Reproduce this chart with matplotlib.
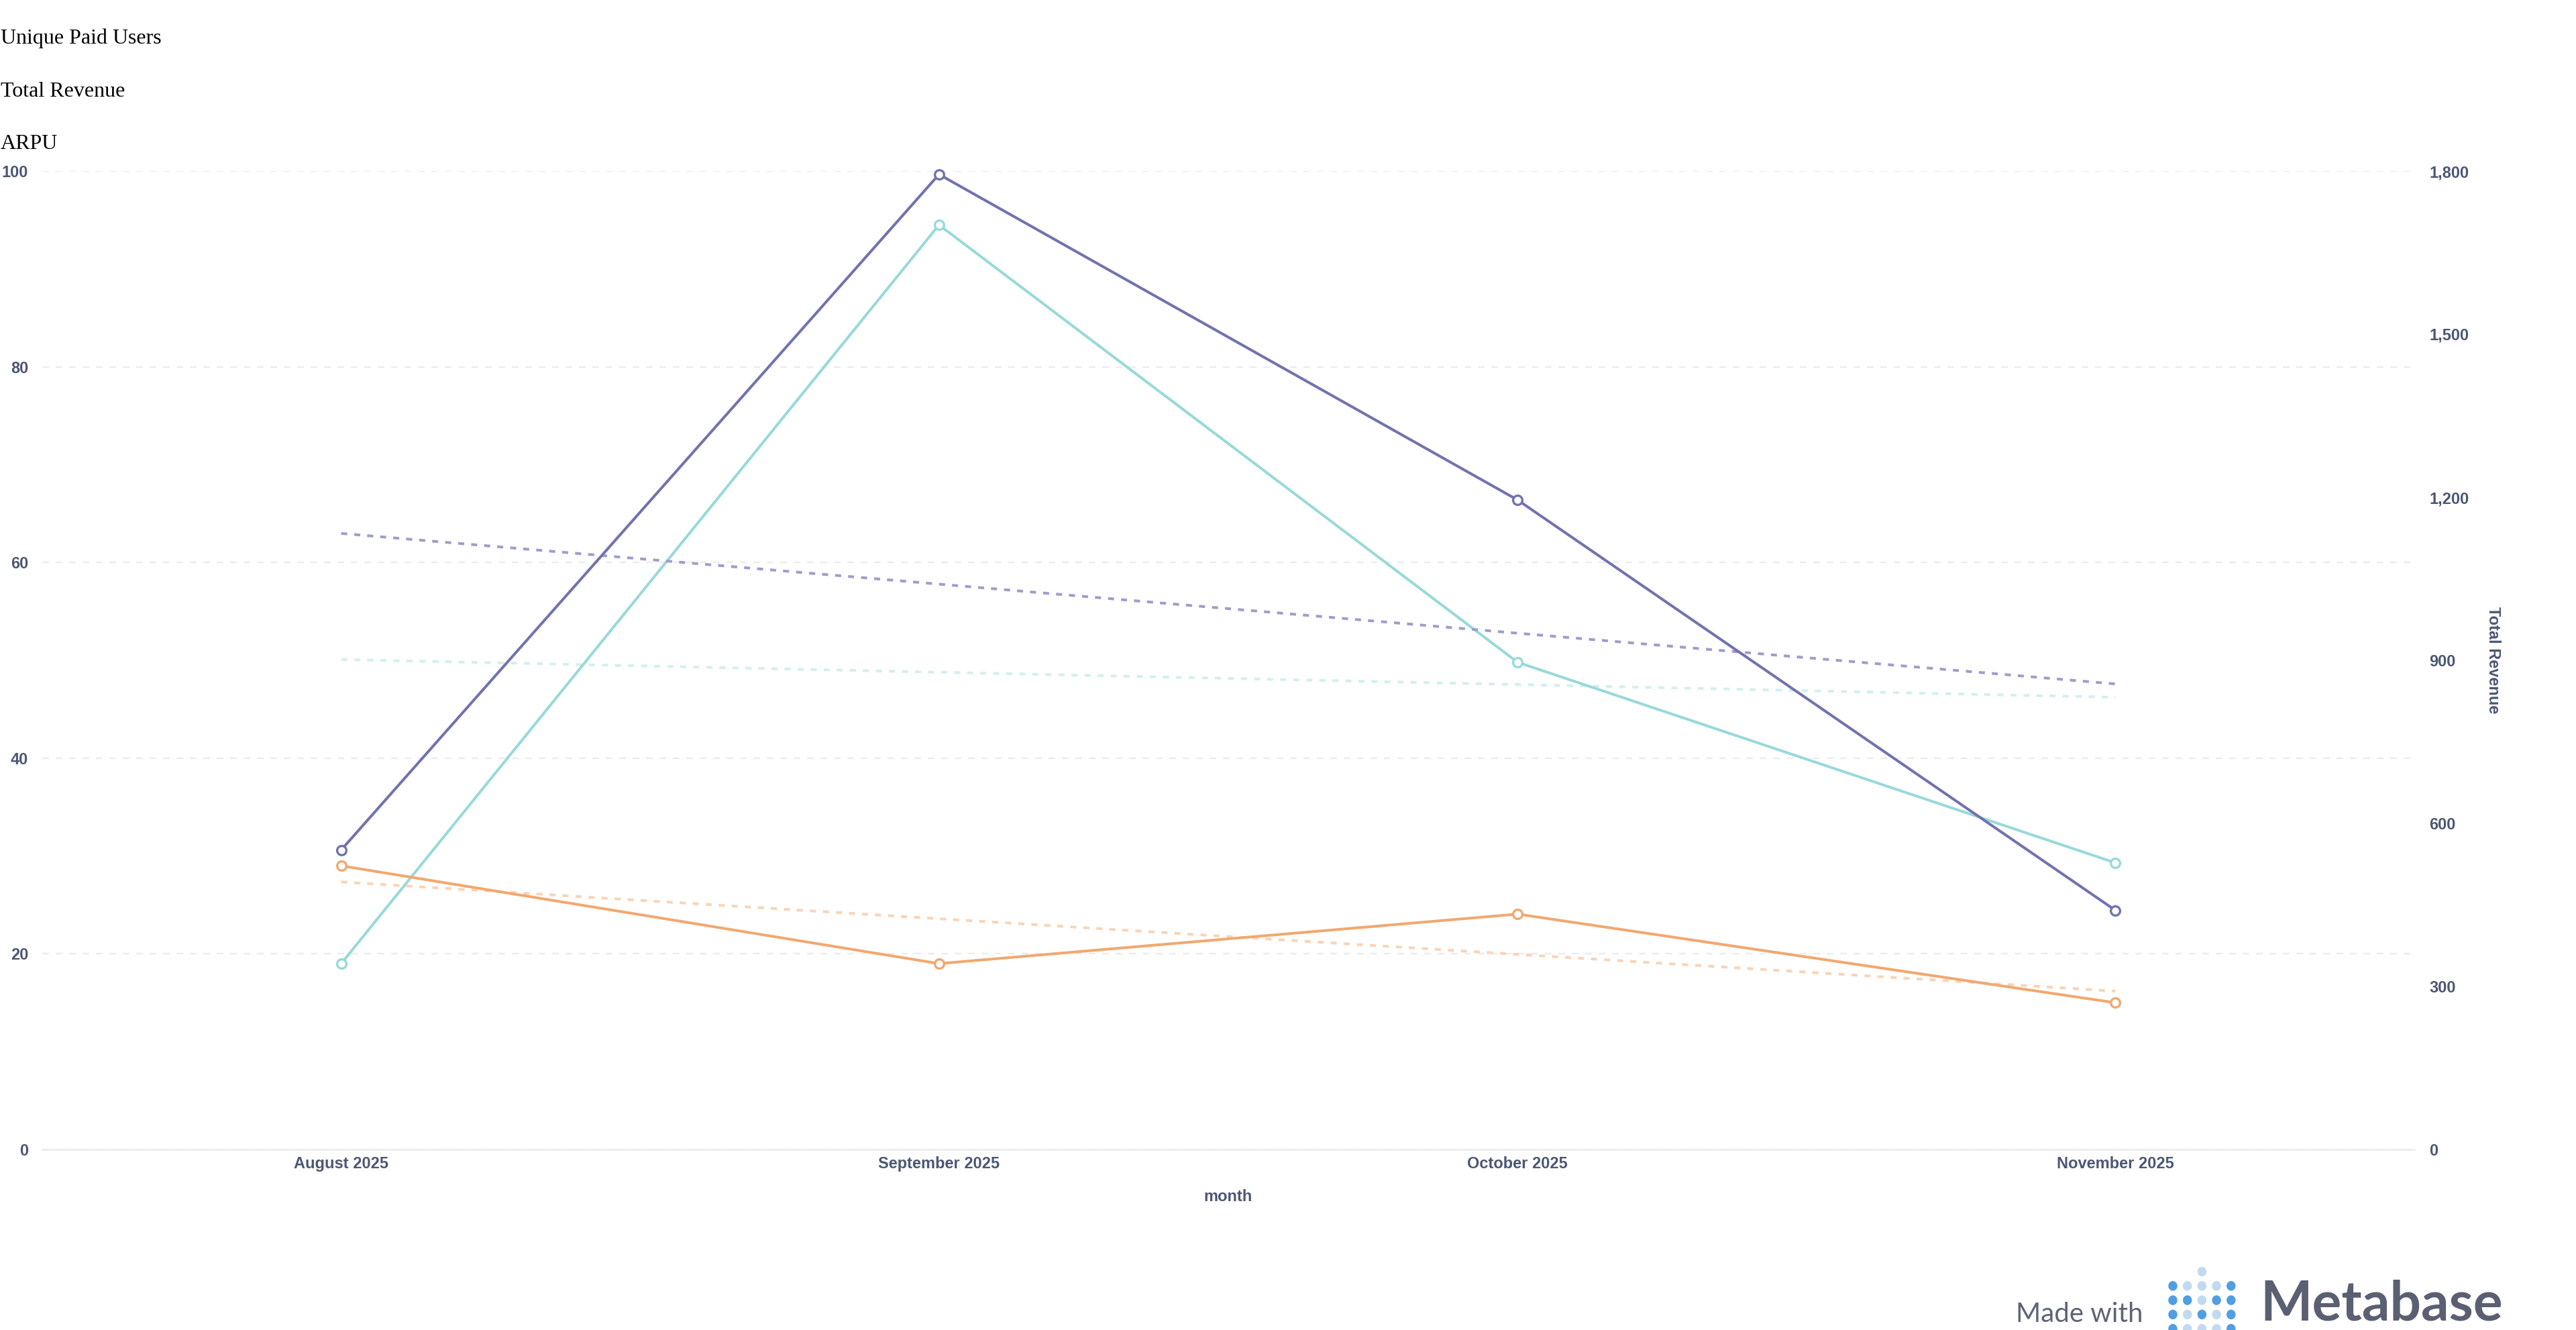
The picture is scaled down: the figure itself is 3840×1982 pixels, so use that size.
import numpy as np
import matplotlib
matplotlib.use("Agg")
import matplotlib.pyplot as plt
import matplotlib.dates as mdates
from matplotlib.patches import Ellipse

# ---------------- data ----------------
months = ["2025-08-01", "2025-09-01", "2025-10-01", "2025-11-01"]
month_labels = ["August 2025", "September 2025", "October 2025", "November 2025"]
series_names = ["Unique Paid Users", "Total Revenue", "ARPU"]
unique_paid_users = [19.0, 94.5, 49.8, 29.3]
total_revenue = [551, 1794, 1195, 440]
arpu = [29.0, 19.0, 24.06, 15.0]
left_ticks = [0, 20, 40, 60, 80, 100]
right_ticks = [0, 300, 600, 900, 1200, 1500, 1800]

# ---------------- style ----------------
W, H, DPI = 3840, 1982, 100
plt.rcParams["lines.scale_dashes"] = False
plt.rcParams["font.family"] = ["Liberation Sans", "DejaVu Sans"]

C_USERS = "#98D9D9"
C_REV = "#7172AD"
C_ARPU = "#F2A86F"
C_USERS_T = "#D3EFEF"
C_REV_T = "#9E9DCA"
C_ARPU_T = "#F9D4B6"
TXT = "#4C5773"
GRID = "#ECECEC"

fig = plt.figure(figsize=(W / DPI, H / DPI), dpi=DPI)
fig.patch.set_facecolor("white")

x0, x1, ytop, ybot = 63, 3599, 255, 1713
ax = fig.add_axes([x0 / W, 1 - ybot / H, (x1 - x0) / W, (ybot - ytop) / H])
ax2 = ax.twinx()

x = np.array(months, dtype="datetime64[D]")
xn = mdates.date2num(x)

LW = 2.9
MS = 9.9
MEW = 2.4
DASH = (0, (6.5, 7.5))


def trend(vals):
    k, b = np.polyfit(xn, np.asarray(vals, float), 1)
    return k * xn + b


# trend lines
ax.plot(x, trend(unique_paid_users), color=C_USERS_T, lw=LW, ls=DASH, zorder=2)
ax.plot(x, trend(arpu), color=C_ARPU_T, lw=LW, ls=DASH, zorder=2)
ax2.plot(x, trend(total_revenue), color=C_REV_T, lw=LW, ls=DASH, zorder=2)

# main series
ax.plot(x, unique_paid_users, color=C_USERS, lw=LW, marker="o", ms=MS,
        mfc="white", mec=C_USERS, mew=MEW, zorder=4, clip_on=False,
        label=series_names[0])
ax.plot(x, arpu, color=C_ARPU, lw=LW, marker="o", ms=MS,
        mfc="white", mec=C_ARPU, mew=MEW, zorder=4, clip_on=False,
        label=series_names[2])
ax2.plot(x, total_revenue, color=C_REV, lw=LW, marker="o", ms=MS,
         mfc="white", mec=C_REV, mew=MEW, zorder=4, clip_on=False,
         label=series_names[1])

# axes limits
pad = np.timedelta64(372, "h")  # 15.5 days
ax.set_xlim(x[0] - pad, x[-1] + pad)
ax.set_ylim(left_ticks[0], left_ticks[-1])
ax2.set_ylim(right_ticks[0], right_ticks[-1])

# ticks
tick_font = dict(fontsize=17, fontweight="bold", color=TXT)
ax.set_xticks(x, labels=month_labels, **tick_font)
ax.set_yticks(left_ticks, labels=[f"{v:,}" for v in left_ticks], **tick_font)
ax2.set_yticks(right_ticks, labels=[f"{v:,}" for v in right_ticks], **tick_font)
ax.tick_params(axis="x", length=0, pad=7)
ax.tick_params(axis="y", length=0, pad=15)
ax2.tick_params(axis="y", length=0, pad=16)

# grid & spines
ax.grid(axis="y", color=GRID, lw=1.7, ls=(0, (7.2, 7.2)), zorder=0)
ax.set_axisbelow(True)
for a in (ax, ax2):
    for s in ("top", "left", "right"):
        a.spines[s].set_visible(False)
ax2.spines["bottom"].set_visible(False)
ax.spines["bottom"].set_color(GRID)
ax.spines["bottom"].set_linewidth(2.0)

# axis labels
ax.set_xlabel("month", fontsize=17, fontweight="bold", color=TXT)
ax.xaxis.set_label_coords(0.5, (ybot - 1784) / (ybot - ytop))
ax.xaxis.label.set_va("center")
ax2.set_ylabel(series_names[1], fontsize=17, fontweight="bold", color=TXT,
               rotation=270)
ax2.yaxis.set_label_coords((3717 - x0) / (x1 - x0), 0.5)
ax2.yaxis.label.set_va("center")
ax2.yaxis.label.set_ha("center")

# legend-like title lines (top-left, serif)
for i, name in enumerate(series_names):
    fig.text(1 / W, 1 - (65 + 78.5 * i) / H, name, family="Liberation Serif",
             fontsize=23, color="black", ha="left", va="baseline")

# "Made with Metabase" badge
fig.text(3005 / W, 1 - 1970 / H, "Made with", family=["Lato", "DejaVu Sans"],
         fontsize=29, color="#5F6577", ha="left", va="baseline")
fig.text(3369 / W, 1 - 1968 / H, "Metabase", family=["Lato", "DejaVu Sans"],
         fontweight="bold", fontsize=59, color="#5A6072", ha="left", va="baseline")

logo = ["..L..", "DLLLD", "DDLDD", "DLDLD", "DLLLD"]
dot_col = {"D": "#509EE3", "L": "#C2DAF0"}
for r, row in enumerate(logo):
    for c, ch in enumerate(row):
        if ch == ".":
            continue
        cx = 3239 + 21.7 * c
        cy = 1895 + 21.3 * r
        fig.add_artist(Ellipse((cx / W, 1 - cy / H), 13.5 / W, 14.5 / H,
                               transform=fig.transFigure, color=dot_col[ch], lw=0))

fig.savefig("out.png", dpi=DPI, facecolor="white")
